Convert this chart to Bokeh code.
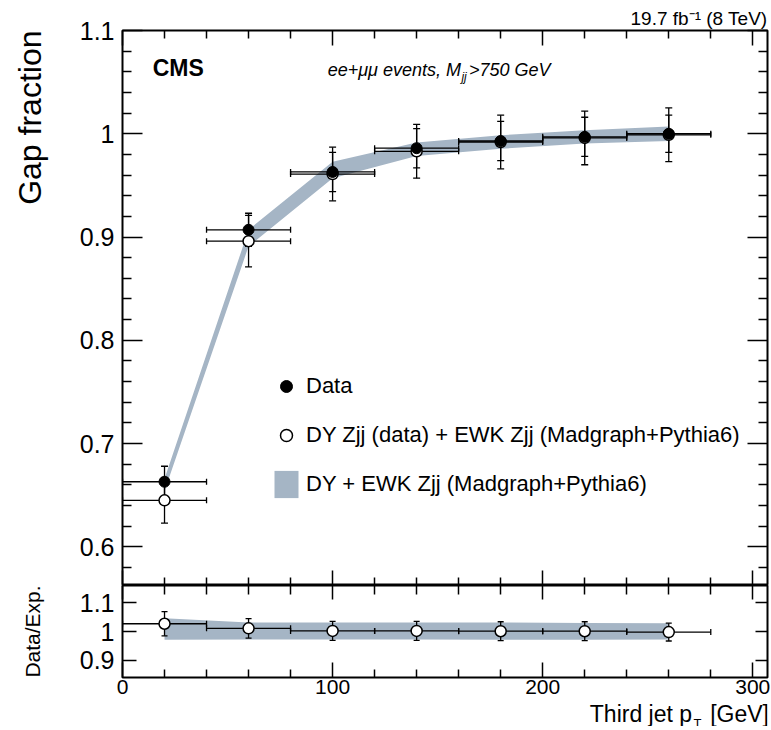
import math
from bokeh.plotting import figure
from bokeh.models import (Range1d, LinearAxis, FixedTicker, CustomJSTickFormatter, Title,
                          ColumnDataSource, Whisker, TeeHead, Label, Legend, LegendItem)
from bokeh.layouts import column, row
from bokeh.embed import file_html
from bokeh.resources import INLINE

# ---------------- data ----------------
pt_centers = [20, 60, 100, 140, 180, 220, 260]
pt_halfwidth = [20, 20, 20, 20, 20, 20, 20]

gap_data = [0.663, 0.907, 0.963, 0.986, 0.993, 0.997, 1.000]
gap_data_err = [0.015, 0.016, 0.019, 0.019, 0.019, 0.019, 0.018]

gap_dy_data = [0.645, 0.896, 0.961, 0.983, 0.992, 0.996, 0.999]
gap_dy_data_err = [0.022, 0.025, 0.026, 0.026, 0.026, 0.026, 0.026]

gap_mc = [0.660, 0.899, 0.965, 0.985, 0.992, 0.997, 1.000]
gap_mc_err = [0.006, 0.008, 0.008, 0.0065, 0.0065, 0.0065, 0.007]

ratio = [1.027, 1.011, 1.002, 1.002, 1.001, 1.001, 0.998]
ratio_err = [0.042, 0.034, 0.033, 0.033, 0.033, 0.033, 0.031]
ratio_band_lo = [0.971, 0.972, 0.972, 0.972, 0.971, 0.971, 0.972]
ratio_band_hi = [1.046, 1.031, 1.031, 1.031, 1.031, 1.030, 1.029]

x_major = [0, 100, 200, 300]
y_major_top = [0.6, 0.7, 0.8, 0.9, 1.0, 1.1]
y_major_ratio = [0.9, 1.0, 1.1]

FONT = "Liberation Sans"
BAND = "#a5b5c5"

x_minor = [v for v in range(0, 307, 20) if v % 100 != 0]
y_minor_top = [round(0.56 + 0.02 * i, 2) for i in range(28)]
y_minor_top = [v for v in y_minor_top if v >= 0.5625 and abs(v * 10 - round(v * 10)) > 1e-6]

fmt = CustomJSTickFormatter(code="return String(Math.round(tick*1000)/1000);")


def make_axis(ticks, minor, tick_in, minor_in, labels, size="25px", standoff=8):
    ax = LinearAxis(ticker=FixedTicker(ticks=ticks, minor_ticks=minor),
                    major_tick_in=tick_in, major_tick_out=0,
                    minor_tick_in=minor_in, minor_tick_out=0,
                    major_tick_line_width=1.5, minor_tick_line_width=1.5,
                    major_tick_line_color="black", minor_tick_line_color="black",
                    axis_line_color=None, axis_label_standoff=0)
    if labels:
        ax.formatter = fmt
        ax.major_label_text_font = FONT
        ax.major_label_text_font_size = size
        ax.major_label_text_color = "black"
        ax.major_label_standoff = standoff
    else:
        ax.major_label_text_font_size = "0px"
        ax.major_label_text_color = None
        ax.major_label_standoff = 0
    return ax


def text_panel(width, height, y_range, top=0):
    return figure(frame_width=width, frame_height=height,
                  x_range=Range1d(0, width), y_range=y_range,
                  x_axis_type=None, y_axis_type=None,
                  output_backend="svg", toolbar_location=None,
                  min_border_left=0, min_border_right=0, min_border_top=top, min_border_bottom=0,
                  outline_line_color=None)


# ---------------- top panel ----------------
p1 = figure(frame_width=645, frame_height=555,
            x_range=Range1d(0, 307), y_range=Range1d(0.5625, 1.1),
            x_axis_type=None, y_axis_type=None,
            output_backend="svg", toolbar_location=None,
            min_border_left=50, min_border_right=4, min_border_top=30, min_border_bottom=0,
            outline_line_color="black", outline_line_width=2)

p1.add_layout(make_axis(y_major_top, y_minor_top, 20, 9, True), "left")
p1.add_layout(make_axis(y_major_top, y_minor_top, 20, 9, False), "right")
p1.add_layout(make_axis(x_major, x_minor, 15, 8, False), "above")
p1.add_layout(make_axis(x_major, x_minor, 15, 8, False), "below")
p1.add_layout(Title(text="19.7 fb\u207b\u00b9 (8 TeV)", align="right", standoff=4, offset=0,
                    text_font=FONT, text_font_size="19px", text_font_style="normal",
                    text_color="black"), "above")

r_band = p1.varea(x=pt_centers,
                  y1=[m - e for m, e in zip(gap_mc, gap_mc_err)],
                  y2=[m + e for m, e in zip(gap_mc, gap_mc_err)],
                  fill_color=BAND, level="underlay")


def err_source(xs, ys, es):
    return ColumnDataSource(dict(
        x=xs, y=ys,
        lo=[v - e for v, e in zip(ys, es)],
        hi=[v + e for v, e in zip(ys, es)],
        xl=[x - w for x, w in zip(xs, pt_halfwidth)],
        xh=[x + w for x, w in zip(xs, pt_halfwidth)]))


src_open = err_source(pt_centers, gap_dy_data, gap_dy_data_err)
src_data = err_source(pt_centers, gap_data, gap_data_err)


def whiskers(fig, src, vsize=7, hsize=6):
    fig.add_layout(Whisker(source=src, base="x", lower="lo", upper="hi", dimension="height",
                           line_color="black", line_width=1.3, level="underlay",
                           upper_head=TeeHead(size=vsize, line_width=1.3, line_color="black"),
                           lower_head=TeeHead(size=vsize, line_width=1.3, line_color="black")))
    fig.add_layout(Whisker(source=src, base="y", lower="xl", upper="xh", dimension="width",
                           line_color="black", line_width=1.3, level="underlay",
                           upper_head=TeeHead(size=hsize, line_width=1.3, line_color="black"),
                           lower_head=TeeHead(size=hsize, line_width=1.3, line_color="black")))


whiskers(p1, src_open)
whiskers(p1, src_data)

r_open = p1.scatter("x", "y", source=src_open, marker="circle", size=11,
                    fill_color="white", line_color="black", line_width=1.5)
r_data = p1.scatter("x", "y", source=src_data, marker="circle", size=11,
                    fill_color="black", line_color="black")

legend = Legend(items=[
    LegendItem(label="Data", renderers=[r_data]),
    LegendItem(label="DY Zjj (data) + EWK Zjj (Madgraph+Pythia6)", renderers=[r_open]),
    LegendItem(label="DY + EWK Zjj (Madgraph+Pythia6)", renderers=[r_band]),
], location=(149, 84), glyph_width=30, glyph_height=34, label_height=34,
    label_standoff=5, spacing=15, padding=0, margin=0,
    border_line_color=None, background_fill_alpha=0,
    label_text_font=FONT, label_text_font_size="22px", label_text_color="black")
p1.add_layout(legend)

p1.add_layout(Label(x=14.4, y=1.064, text="CMS", text_align="left", text_baseline="middle",
                    text_font=FONT, text_font_size="23px", text_font_style="bold",
                    text_color="black"))
p1.add_layout(Label(x=161.1, y=1.0622, text="ee+\u03bc\u03bc events, M",
                    text_align="right", text_baseline="alphabetic",
                    text_font=FONT, text_font_size="18px", text_font_style="italic",
                    text_color="black"))
p1.add_layout(Label(x=161.3, y=1.0552, text="jj",
                    text_align="left", text_baseline="alphabetic",
                    text_font=FONT, text_font_size="12px", text_font_style="italic",
                    text_color="black"))
p1.add_layout(Label(x=164.9, y=1.0622, text=">750 GeV",
                    text_align="left", text_baseline="alphabetic",
                    text_font=FONT, text_font_size="18px", text_font_style="italic",
                    text_color="black"))

# y title of the top panel, in its own strip to the left
pl1 = text_panel(72, 555, p1.y_range, top=30)
pl1.add_layout(Label(x=29, y=1.1, angle=math.pi / 2, text="Gap fraction",
                     text_align="right", text_baseline="middle",
                     text_font=FONT, text_font_size="32px", text_color="black"))

# ---------------- ratio panel ----------------
p2 = figure(frame_width=645, frame_height=92,
            x_range=p1.x_range, y_range=Range1d(0.84, 1.16),
            x_axis_type=None, y_axis_type=None,
            output_backend="svg", toolbar_location=None,
            min_border_left=50, min_border_right=4, min_border_top=0, min_border_bottom=0,
            outline_line_color="black", outline_line_width=2)

p2.add_layout(make_axis(y_major_ratio, [], 14, 0, True), "left")
p2.add_layout(make_axis(y_major_ratio, [], 12, 0, False), "right")
p2.add_layout(make_axis(x_major, x_minor, 14, 9, False), "above")
p2.add_layout(make_axis(x_major, x_minor, 15, 8, True, size="21px", standoff=2), "below")

p2.varea(x=pt_centers, y1=ratio_band_lo, y2=ratio_band_hi, fill_color=BAND, level="underlay")

src_ratio = err_source(pt_centers, ratio, ratio_err)
whiskers(p2, src_ratio, vsize=6, hsize=6)
p2.scatter("x", "y", source=src_ratio, marker="circle", size=11,
           fill_color="white", line_color="black", line_width=1.5)

# y title of the ratio panel (y measured downwards from the panel top, in px)
pl2 = text_panel(72, 100, Range1d(100, 0))
pl2.add_layout(Label(x=32, y=46, angle=math.pi / 2, text="Data/Exp.",
                     text_align="center", text_baseline="middle",
                     text_font=FONT, text_font_size="21px", text_color="black"))

# ---------------- x title strip (y measured downwards from its top, in px) ----------------
p3 = figure(frame_width=645, frame_height=38,
            x_range=p1.x_range, y_range=Range1d(38, 0),
            x_axis_type=None, y_axis_type=None,
            output_backend="svg", toolbar_location=None,
            min_border_left=122, min_border_right=4, min_border_top=0, min_border_bottom=0,
            outline_line_color=None, background_fill_color=None, border_fill_color=None,
            styles={"margin-top": "-8px"})
p3.add_layout(Label(x=271.1, y=25, text="Third jet p",
                    text_align="right", text_baseline="alphabetic",
                    text_font=FONT, text_font_size="23px", text_color="black"))
p3.add_layout(Label(x=271.8, y=34.5, text="T",
                    text_align="left", text_baseline="alphabetic",
                    text_font=FONT, text_font_size="13px", text_color="black"))
p3.add_layout(Label(x=279.7, y=25, text="[GeV]",
                    text_align="left", text_baseline="alphabetic",
                    text_font=FONT, text_font_size="23px", text_color="black"))

layout = column(row(pl1, p1, spacing=0), row(pl2, p2, spacing=0), p3, spacing=0)
open("out.html", "w").write(file_html(layout, INLINE))
